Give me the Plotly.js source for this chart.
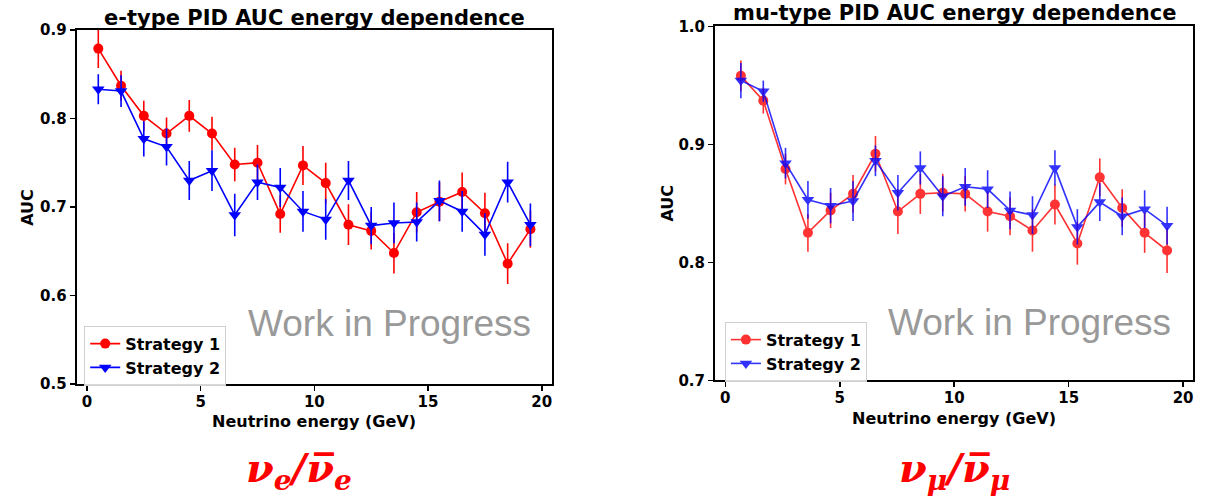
<!DOCTYPE html>
<html>
<head>
<meta charset="utf-8">
<script src="https://cdn.plot.ly/plotly-3.0.1.min.js"></script>
<style>html,body{margin:0;padding:0;background:#fff;}#chart{width:1211px;height:501px;}</style>
</head>
<body>
<div id="chart"></div>
<script>
// ---- e-type panel data ----
const eEnergy = [0.5,1.5,2.5,3.5,4.5,5.5,6.5,7.5,8.5,9.5,10.5,11.5,12.5,13.5,14.5,15.5,16.5,17.5,18.5,19.5];
const eS1 = [0.879,0.837,0.803,0.783,0.803,0.783,0.748,0.750,0.692,0.747,0.727,0.680,0.673,0.648,0.694,0.706,0.717,0.693,0.636,0.675];
const eS1err = [0.022,0.017,0.017,0.018,0.018,0.019,0.019,0.020,0.021,0.022,0.023,0.023,0.021,0.023,0.023,0.022,0.022,0.023,0.023,0.021];
const eS2 = [0.833,0.831,0.777,0.768,0.730,0.741,0.691,0.728,0.722,0.695,0.686,0.730,0.679,0.682,0.683,0.707,0.695,0.669,0.728,0.680];
const eS2err = [0.017,0.018,0.020,0.021,0.022,0.023,0.024,0.020,0.022,0.023,0.023,0.022,0.021,0.023,0.022,0.023,0.023,0.024,0.023,0.024];

// ---- mu-type panel data ----
const muEnergy = [0.68,1.66,2.63,3.61,4.6,5.58,6.56,7.54,8.52,9.5,10.48,11.46,12.44,13.42,14.4,15.38,16.36,17.34,18.32,19.3];
const muS1 = [0.958,0.937,0.879,0.825,0.844,0.858,0.892,0.843,0.858,0.859,0.858,0.843,0.839,0.827,0.849,0.816,0.872,0.846,0.825,0.810];
const muS1err = [0.013,0.011,0.013,0.016,0.015,0.016,0.015,0.019,0.017,0.016,0.015,0.017,0.016,0.018,0.017,0.018,0.016,0.016,0.017,0.019];
const muS2 = [0.954,0.945,0.884,0.853,0.848,0.852,0.886,0.859,0.880,0.856,0.864,0.862,0.844,0.840,0.880,0.830,0.851,0.839,0.845,0.831];
const muS2err = [0.015,0.009,0.013,0.016,0.015,0.017,0.013,0.015,0.014,0.017,0.016,0.016,0.016,0.016,0.015,0.015,0.016,0.016,0.016,0.016];

const xTicks = [0,5,10,15,20];
const seriesNames = ['Strategy 1','Strategy 2'];
const panelTitles = ['e-type PID AUC energy dependence','mu-type PID AUC energy dependence'];
const xLabel = 'Neutrino energy (GeV)';
const yLabel = 'AUC';
const watermark = 'Work in Progress';
const flavourLabels = ['<b><i>ν<sub>e</sub>/ν\u0305<sub>e</sub></i></b>','<b><i>ν<sub>μ</sub>/ν\u0305<sub>μ</sub></i></b>'];

const W = 1211, H = 501;
const px = v => v / W;
const py = v => 1 - v / H;

const RED = '#ff0000', BLUE = '#0000ff';
function trace(x, y, err, name, color, symbol, xa, ya, leg, op, size) {
  return {
    x: x, y: y, name: name, type: 'scatter', mode: 'lines+markers',
    xaxis: xa, yaxis: ya, legend: leg, opacity: op,
    line: {color: color, width: 1.6},
    marker: {color: color, symbol: symbol, size: size},
    error_y: {type: 'data', array: err, visible: true, color: color, thickness: 1.6, width: 0}
  };
}

const data = [
  trace(eEnergy, eS1, eS1err, seriesNames[0], RED, 'circle', 'x', 'y', 'legend', 1, 10),
  trace(eEnergy, eS2, eS2err, seriesNames[1], BLUE, 'triangle-down', 'x', 'y', 'legend', 1, 11),
  trace(muEnergy, muS1, muS1err, seriesNames[0], RED, 'circle', 'x2', 'y2', 'legend2', 0.8, 10),
  trace(muEnergy, muS2, muS2err, seriesNames[1], BLUE, 'triangle-down', 'x2', 'y2', 'legend2', 0.8, 11)
];

const tickFont = {family: 'DejaVu Sans', size: 15, color: '#000', weight: 'bold'};
function xax(domain, anchor) {
  return {domain: domain, anchor: anchor, range: [-0.45, 20.45], tickvals: xTicks,
    showline: true, mirror: true, linecolor: '#000', linewidth: 2,
    ticks: 'outside', ticklen: 5, tickwidth: 1.5, tickcolor: '#000', ticklabelstandoff: -2,
    showgrid: false, zeroline: false, tickfont: tickFont};
}
function yax(domain, anchor, range) {
  return {domain: domain, anchor: anchor, range: range, dtick: 0.1, tick0: 0, tickformat: '.1f',
    showline: true, mirror: true, linecolor: '#000', linewidth: 2,
    ticks: 'outside', ticklen: 5, tickwidth: 1.5, tickcolor: '#000',
    showgrid: false, zeroline: false, tickfont: tickFont};
}

const legendStyle = (x, y) => ({x: x, y: y, xanchor: 'left', yanchor: 'top',
  bgcolor: 'rgba(255,255,255,0.85)', bordercolor: '#d0d0d0', borderwidth: 1,
  font: {family: 'DejaVu Sans', size: 16, color: '#000', weight: 'bold'}});

function ann(text, x, y, font, extra) {
  return Object.assign({text: text, x: px(x), y: py(y), xref: 'paper', yref: 'paper',
    xanchor: 'center', yanchor: 'middle', showarrow: false, font: font}, extra || {});
}
const titleFont = {family: 'DejaVu Sans', size: 21, color: '#000', weight: 'bold'};
const labFont = {family: 'DejaVu Sans', size: 16, color: '#000', weight: 'bold'};
const wipFont = {family: 'Liberation Sans', size: 37, color: '#999999'};
const nuFont = {family: 'DejaVu Serif', size: 40, color: '#ff0000'};

const layout = {
  width: W, height: H, margin: {l: 0, r: 0, t: 0, b: 0},
  paper_bgcolor: '#fff', plot_bgcolor: '#fff', showlegend: true,
  xaxis: xax([px(76.7), px(552)], 'y'),
  yaxis: yax([1 - 384/H, 1 - 30/H], 'x', [0.5, 0.9]),
  xaxis2: xax([px(715), px(1193.4)], 'y2'),
  yaxis2: yax([1 - 380.3/H, 1 - 26.3/H], 'x2', [0.7, 1.0]),
  legend: legendStyle(px(84.2), py(325.7)),
  legend2: legendStyle(px(724.9), py(321.7)),
  annotations: [
    ann(panelTitles[0], 314.4, 17.7, titleFont),
    ann(panelTitles[1], 954.5, 13.4, titleFont),
    ann(xLabel, 314.4, 421.5, labFont),
    ann(xLabel, 954.2, 418, labFont),
    ann(yLabel, 26.8, 207, labFont, {textangle: -90}),
    ann(yLabel, 667.3, 203.3, labFont, {textangle: -90}),
    ann(watermark, 389.9, 323.9, wipFont),
    ann(watermark, 1029.8, 322.2, wipFont),
    ann(flavourLabels[0], 299, 470, nuFont),
    ann(flavourLabels[1], 954, 470, nuFont)
  ]
};

Plotly.newPlot('chart', data, layout, {displayModeBar: false, staticPlot: true});
</script>
</body>
</html>
